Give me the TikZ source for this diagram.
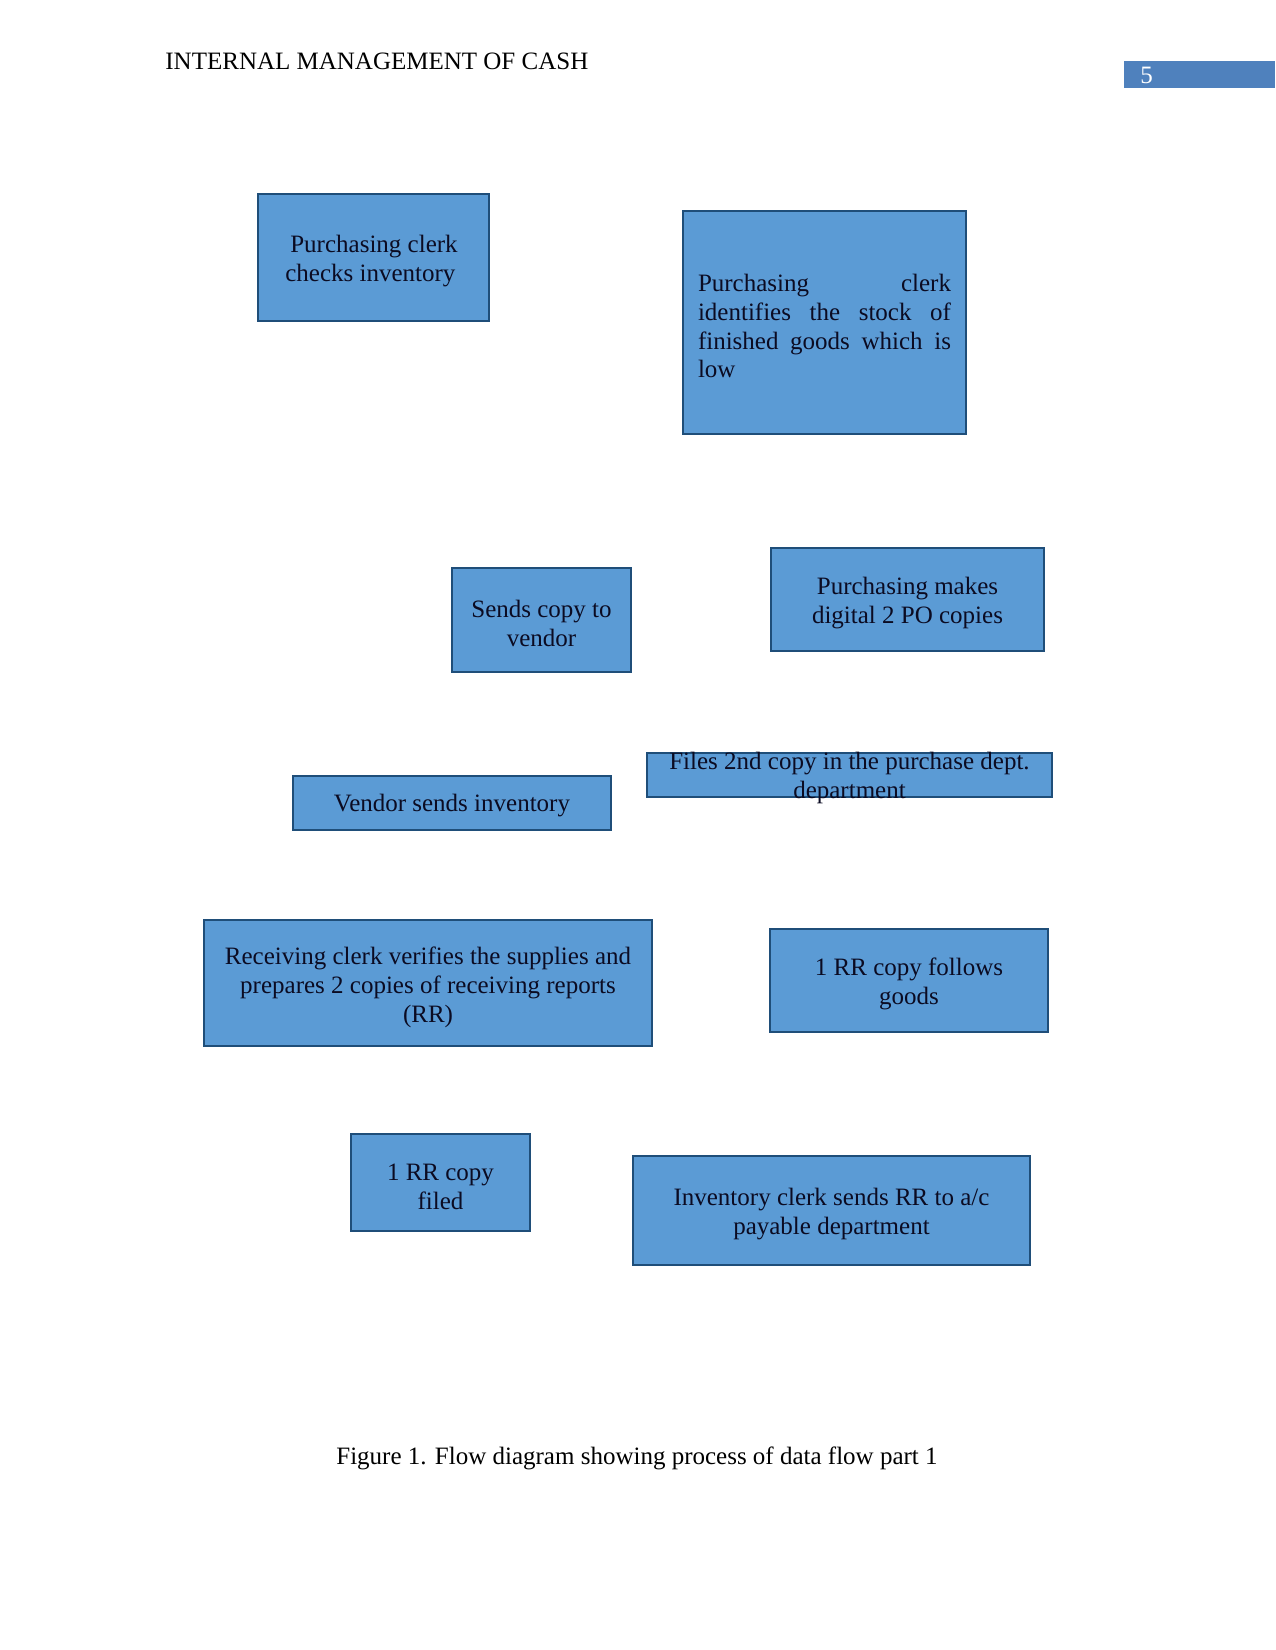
\documentclass[tikz,border=0pt]{standalone}
\usepackage{fontspec}
\setmainfont{Liberation Serif}
\definecolor{boxfill}{HTML}{5B9BD5}
\definecolor{boxline}{HTML}{1F4E79}
\definecolor{boxtext}{HTML}{0B0B22}
\definecolor{pagebox}{HTML}{4F81BD}
\tikzset{
  stepbox/.style={draw=boxline, line width=1pt, fill=boxfill, inner sep=0pt, anchor=north west},
  boxlabel/.style={text=boxtext, align=center, font=\fontsize{12}{13.9}\selectfont, inner sep=0pt},
  plain/.style={font=\fontsize{12}{13.9}\selectfont, inner sep=0pt}
}
\begin{document}
\begin{tikzpicture}[x=0.48pt, y=-0.48pt]
\useasboundingbox (0,0) rectangle (1275,1650);
% header
\node[plain, anchor=base west] (hdr) at (165,70) {INTERNAL MANAGEMENT OF CASH};
\fill[pagebox] (1124,61) rectangle (1275,88);
\node[plain, text=white, anchor=base west] (pg) at (1140,84) {5};
% boxes
\draw[stepbox] (258,194) rectangle (489,321);
\node[boxlabel] (b1) at (374,261) {Purchasing clerk\\checks inventory\hspace*{3.5pt}};
\draw[stepbox] (683,211) rectangle (966,434);
\node[boxlabel, align=left] (b2) at (824.5,326) {\makebox[253\dimexpr0.48pt\relax][s]{Purchasing\hfill clerk}\\
\makebox[253\dimexpr0.48pt\relax][s]{identifies\hfill the\hfill stock\hfill of}\\
\makebox[253\dimexpr0.48pt\relax][s]{finished\hfill goods\hfill which\hfill is}\\
\makebox[253\dimexpr0.48pt\relax][l]{low}};
\draw[stepbox] (452,568) rectangle (631,672);
\node[boxlabel] (b3) at (541.5,623) {Sends copy to\\vendor};
\draw[stepbox] (771,548) rectangle (1044,651);
\node[boxlabel] (b4) at (907.5,603) {Purchasing makes\\digital 2 PO copies};
\draw[stepbox] (293,776) rectangle (611,830);
\node[boxlabel] (b5) at (452,806) {Vendor sends inventory};
\draw[stepbox] (647,753) rectangle (1052,797);
\node[boxlabel] (b6) at (849.5,778) {Files 2nd copy in the purchase dept.\\department};
\draw[stepbox] (204,920) rectangle (652,1046);
\node[boxlabel] (b7) at (428,987) {Receiving clerk verifies the supplies and\\prepares 2 copies of receiving reports\\(RR)};
\draw[stepbox] (770,929) rectangle (1048,1032);
\node[boxlabel] (b8) at (909,984) {1 RR copy follows\\goods};
\draw[stepbox] (351,1134) rectangle (530,1231);
\node[boxlabel] (b9) at (440.5,1187) {1 RR copy\\filed};
\draw[stepbox] (633,1156) rectangle (1030,1265);
\node[boxlabel] (b10) at (831.5,1214) {Inventory clerk sends RR to a/c\\payable department};
% caption
\node[plain, anchor=base] (cap) at (637,1464) {Figure 1. Flow diagram showing process of data flow part 1};
\end{tikzpicture}
\end{document}
